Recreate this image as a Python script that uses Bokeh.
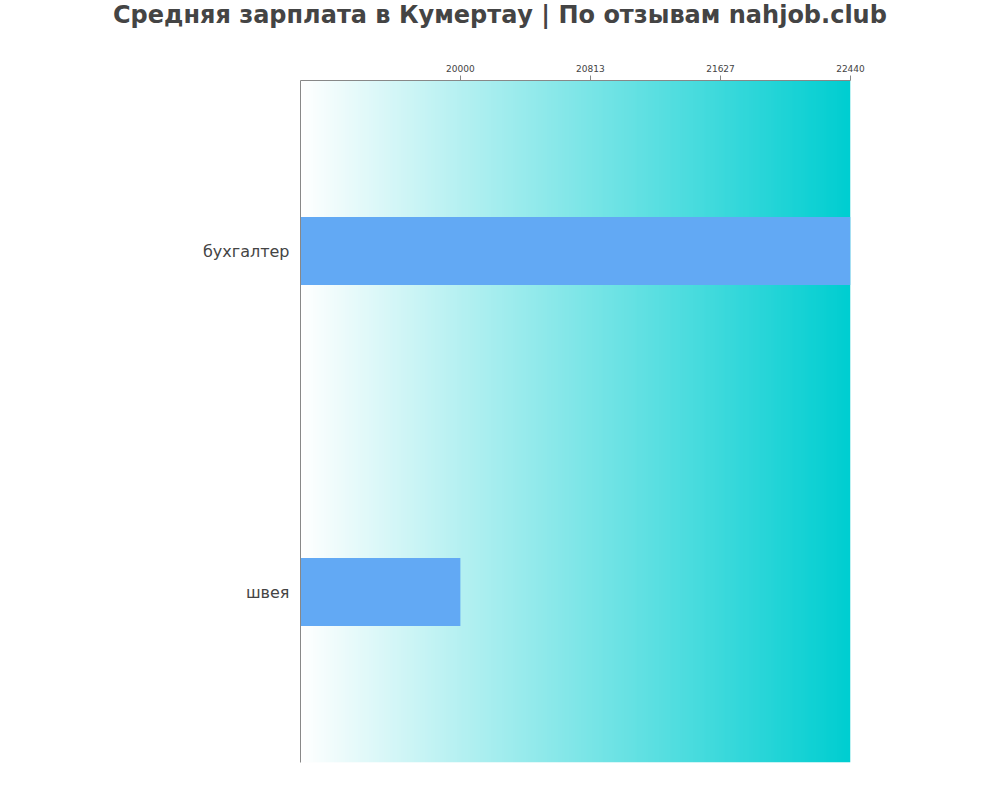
import numpy as np

from bokeh.plotting import figure
from bokeh.layouts import column
from bokeh.models import FactorRange, Range1d, FixedTicker, Div
from bokeh.embed import file_html
from bokeh.resources import INLINE

# Data
jobs = ["бухгалтер", "швея"]
salaries = [22440, 20000]
tick_values = [20000, 20813, 21627, 22440]
x_start = 19000
x_end = 22440

title_text = "Средняя зарплата в Кумертау | По отзывам nahjob.club"

header = Div(text=title_text, width=992, height=30, margin=0, styles={
    "font-family": "DejaVu Sans", "font-size": "24px", "font-weight": "bold",
    "color": "#444444", "line-height": "30px", "padding-left": "113px",
    "white-space": "nowrap",
})

p = figure(
    width=992, height=762,
    y_range=FactorRange(factors=jobs[::-1]),
    x_range=Range1d(x_start, x_end),
    x_axis_location="above",
    output_backend="svg",
    toolbar_location=None,
    min_border_left=300, min_border_right=142,
    min_border_top=50, min_border_bottom=30,
    outline_line_color=None,
)

# background gradient white -> turquoise
n = 256
img = np.zeros((1, n, 4), dtype=np.uint8)
t = np.linspace(0, 1, n)
img[0, :, 0] = (255 * (1 - t)).astype(np.uint8)
img[0, :, 1] = (255 + (206 - 255) * t).astype(np.uint8)
img[0, :, 2] = (255 + (209 - 255) * t).astype(np.uint8)
img[0, :, 3] = 255
p.image_rgba(image=[img.view(np.uint32).reshape(1, n)], x=x_start, y=0,
             dw=x_end - x_start, dh=len(jobs))

p.hbar(y=jobs, left=x_start, right=salaries, height=0.2,
       fill_color="#62a9f4", line_color=None)

p.xaxis.ticker = FixedTicker(ticks=tick_values)
p.xaxis.axis_line_color = "#888888"
p.xaxis.major_tick_line_color = "#888888"
p.xaxis.major_tick_out = 5
p.xaxis.major_tick_in = 0
p.xaxis.minor_tick_line_color = None
p.xaxis.major_label_text_font = "DejaVu Sans"
p.xaxis.major_label_text_font_size = "9px"
p.xaxis.major_label_text_color = "#444444"
p.xaxis.major_label_standoff = 4

p.yaxis.axis_line_color = "#888888"
p.yaxis.major_tick_line_color = None
p.yaxis.minor_tick_line_color = None
p.yaxis.major_label_text_font = "DejaVu Sans"
p.yaxis.major_label_text_font_size = "16px"
p.yaxis.major_label_text_color = "#444444"
p.yaxis.major_label_standoff = 5

p.xgrid.grid_line_color = None
p.ygrid.grid_line_color = None

layout = column(header, p, spacing=0)
open("out.html", "w").write(file_html(layout, INLINE))
